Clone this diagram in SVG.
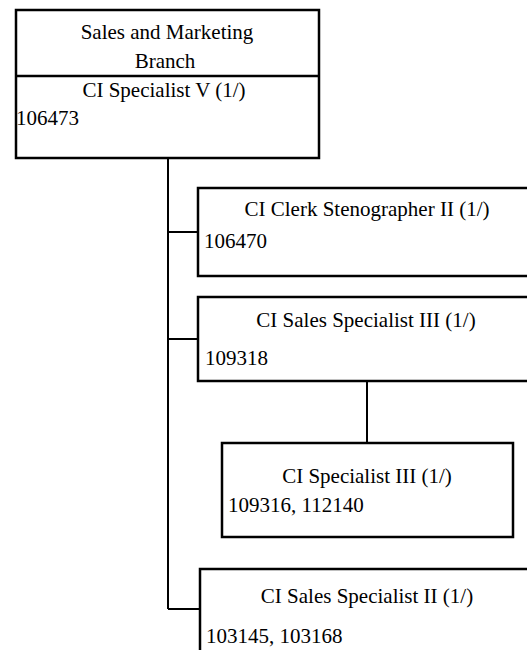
<svg xmlns="http://www.w3.org/2000/svg" width="527" height="650" viewBox="0 0 527 650">
<style>
.box{fill:#fff;stroke:#000;stroke-width:2.5}
.ln{fill:none;stroke:#000;stroke-width:2}
.t{font-family:'Liberation Serif',serif;font-size:21px;fill:#000}
.c{text-anchor:middle}
</style>
<rect width="527" height="650" fill="#fff"/>
<g id="connectors">
<path class="ln" d="M168,157 V609 M168,232 H198 M168,339 H198 M168,609 H200 M367,381 V443"/>
</g>
<g id="n0">
<rect class="box" x="16" y="10" width="303" height="148"/>
<line class="box" x1="16" y1="76" x2="319" y2="76"/>
<text class="t c" x="167" y="39">Sales and Marketing</text>
<text class="t c" x="165" y="68">Branch</text>
<text class="t c" x="164" y="97">CI Specialist V (1/)</text>
<text class="t" x="16" y="125">106473</text>
</g>
<g id="n1">
<rect class="box" x="198" y="188" width="340" height="88"/>
<text class="t c" x="367" y="216">CI Clerk Stenographer II (1/)</text>
<text class="t" x="204" y="248">106470</text>
</g>
<g id="n2">
<rect class="box" x="198" y="297" width="340" height="84"/>
<text class="t c" x="366" y="327">CI Sales Specialist III (1/)</text>
<text class="t" x="205" y="365">109318</text>
</g>
<g id="n3">
<rect class="box" x="222" y="443" width="291" height="94"/>
<text class="t c" x="367" y="483">CI Specialist III (1/)</text>
<text class="t" x="228" y="512">109316, 112140</text>
</g>
<g id="n4">
<rect class="box" x="200" y="569" width="340" height="100"/>
<text class="t c" x="367" y="603">CI Sales Specialist II (1/)</text>
<text class="t" x="206" y="643">103145, 103168</text>
</g>
</svg>
